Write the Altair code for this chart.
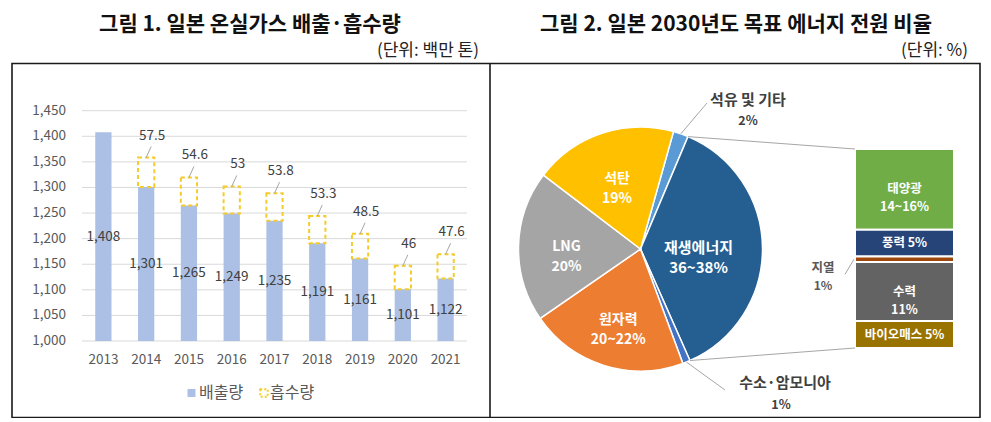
import math
import altair as alt
import pandas as pd

FONT = "Noto Sans CJK KR"
W, H = 975, 410


def P(v):
    return v - 8


# ---------------- data ----------------
years = ["2013", "2014", "2015", "2016", "2017", "2018", "2019", "2020", "2021"]
emissions = [1408, 1301, 1265, 1249, 1235, 1191, 1161, 1101, 1122]
absorptions = [None, 57.5, 54.6, 53, 53.8, 53.3, 48.5, 46, 47.6]
y_ticks = [1000, 1050, 1100, 1150, 1200, 1250, 1300, 1350, 1400, 1450]

pie_labels = ["석유 및 기타", "재생에너지", "수소·암모니아", "원자력", "LNG", "석탄"]
pie_values = [2, 37, 1, 21, 20, 19]
pie_texts = ["2%", "36~38%", "1%", "20~22%", "20%", "19%"]
pie_colors = ["#5B9BD5", "#255E91", "#4472C4", "#ED7D31", "#A5A5A5", "#FFC000"]

ren_labels = ["태양광", "풍력", "지열", "수력", "바이오매스"]
ren_values = [15, 5, 1, 11, 5]
ren_texts = ["14~16%", "5%", "1%", "11%", "5%"]
ren_colors = ["#70AD47", "#264478", "#9E480E", "#636363", "#997300"]

# ---------------- helpers ----------------
one = pd.DataFrame({"a": [0]})


def T(text, x, y, size=13, color="#404040", weight="normal", align="center"):
    return alt.Chart(one).mark_text(
        text=text, fontSize=size, color=color, fontWeight=weight, align=align,
        baseline="middle", font=FONT,
    ).encode(x=alt.value(P(x)), y=alt.value(P(y)))


def seg(x1, y1, x2, y2, color="#A6A6A6", width=1):
    return alt.Chart(one).mark_rule(color=color, strokeWidth=width).encode(
        x=alt.value(P(x1)), y=alt.value(P(y1)), x2=alt.value(P(x2)), y2=alt.value(P(y2))
    )


layers = []

# ---------------- frame & titles ----------------
layers.append(alt.Chart(one).mark_rect(fill="white", fillOpacity=0, stroke="#1a1a1a", strokeWidth=1.6).encode(
    x=alt.value(P(12)), x2=alt.value(P(980)), y=alt.value(P(63.5)), y2=alt.value(P(417.5))))
layers.append(seg(490, 63.5, 490, 417.5, color="#1a1a1a", width=1.6))
layers.append(T("그림 1. 일본 온실가스 배출·흡수량", 250, 25, size=21, color="#111111", weight="bold"))
layers.append(T("그림 2. 일본 2030년도 목표 에너지 전원 비율", 736, 25, size=21, color="#111111", weight="bold"))
layers.append(T("(단위: 백만 톤)", 479, 51, size=17, color="#222222", align="right"))
layers.append(T("(단위: %)", 968, 51, size=17, color="#222222", align="right"))

# ---------------- bar chart ----------------
Y0 = 1000
bar_df = pd.DataFrame({"year": years, "emission": emissions, "absorption": absorptions})
bar_df["mid"] = (Y0 + bar_df["emission"]) / 2
abs_df = bar_df.dropna().copy()
abs_df["top"] = abs_df["emission"] + abs_df["absorption"]
abs_df["lab"] = [f"{v:g}" for v in abs_df["absorption"]]
tick_df = pd.DataFrame({"v": y_ticks})

xs = alt.Scale(domain=years, range=[P(82), P(467)], paddingInner=0.62, paddingOuter=0.31)
ys = alt.Scale(domain=[y_ticks[0], y_ticks[-1]], range=[P(341), P(110.7)], zero=False, nice=False)
X = alt.X("year:N", scale=xs, axis=None, sort=years)

layers.append(alt.Chart(tick_df).mark_rule(color="#D9D9D9", strokeWidth=1).encode(
    y=alt.Y("v:Q", scale=ys, axis=None), x=alt.value(P(82)), x2=alt.value(P(467))))
layers.append(alt.Chart(tick_df).mark_text(align="right", fontSize=13.5, color="#595959", font=FONT).encode(
    y=alt.Y("v:Q", scale=ys, axis=None), x=alt.value(P(66)), text=alt.Text("v:Q", format=",")))
layers.append(alt.Chart(bar_df).mark_bar(color="#ABC0E4").encode(
    x=X, y=alt.Y("emission:Q", scale=ys, axis=None), y2=alt.datum(Y0)))
layers.append(alt.Chart(abs_df).mark_bar(fill="white", fillOpacity=0, stroke="#F5CB2A", strokeWidth=2,
                                         strokeDash=[4, 3]).encode(
    x=X, y=alt.Y("emission:Q", scale=ys, axis=None), y2="top:Q"))
layers.append(alt.Chart(bar_df).mark_text(fontSize=13.5, color="#404040", font=FONT).encode(
    x=X, y=alt.Y("mid:Q", scale=ys, axis=None), text=alt.Text("emission:Q", format=",")))
layers.append(alt.Chart(abs_df).mark_rule(color="#A6A6A6", strokeWidth=1, x2Offset=5, y2Offset=-11).encode(
    x=alt.X("year:N", scale=xs, axis=None, sort=years, bandPosition=0.5),
    x2=alt.X2("year:N", bandPosition=0.5),
    y=alt.Y("top:Q", scale=ys, axis=None), y2="top:Q"))
layers.append(alt.Chart(abs_df).mark_text(fontSize=13.5, color="#404040", font=FONT, dx=6, dy=-22).encode(
    x=X, y=alt.Y("top:Q", scale=ys, axis=None), text="lab:N"))
layers.append(alt.Chart(pd.DataFrame({"year": years})).mark_text(fontSize=13.5, color="#595959", font=FONT).encode(
    x=X, y=alt.value(P(360)), text="year:N"))

# legend
layers.append(alt.Chart(one).mark_square(size=64, color="#ABC0E4", opacity=1).encode(
    x=alt.value(P(191.5)), y=alt.value(P(393))))
layers.append(T("배출량", 199, 393, size=16, color="#595959", align="left"))
layers.append(alt.Chart(one).mark_square(size=56, filled=False, stroke="#F5CB2A", strokeWidth=2,
                                         strokeDash=[2, 2], opacity=1).encode(
    x=alt.value(P(264)), y=alt.value(P(393))))
layers.append(T("흡수량", 270, 393, size=16, color="#595959", align="left"))

# ---------------- pie chart ----------------
CX, CY, R = 640.5, 249, 122
A0 = math.radians(15.7)
tot = sum(pie_values)
pie_df = pd.DataFrame({"label": pie_labels, "value": pie_values, "ord": range(len(pie_labels))})
inner = {"원자력": "원자력\n20~22%", "LNG": "LNG\n20%", "석탄": "석탄\n19%"}
pie_df["inner"] = [inner.get(l, "") for l in pie_labels]
pie_df["renew"] = ["재생에너지\n36~38%" if l == "재생에너지" else "" for l in pie_labels]

tscale = alt.Scale(range=[A0, A0 + 2 * math.pi])
TH = alt.Theta("value:Q", stack=True, scale=tscale)
pie_color = alt.Color("label:N", scale=alt.Scale(domain=pie_labels, range=pie_colors), legend=None)

layers.append(alt.Chart(pie_df).mark_arc(radius=R, stroke="white", strokeWidth=1.5).encode(
    theta=TH, color=pie_color, order=alt.Order("ord:Q"), x=alt.value(P(CX)), y=alt.value(P(CY))))
layers.append(alt.Chart(pie_df).mark_text(radius=74, lineBreak="\n", lineHeight=20, fontSize=14,
                                          fontWeight="bold", color="white", font=FONT).encode(
    theta=TH, detail="label:N", order=alt.Order("ord:Q"), text="inner:N",
    x=alt.value(P(CX)), y=alt.value(P(CY))))
layers.append(alt.Chart(pie_df).mark_text(radius=58, lineBreak="\n", lineHeight=20, fontSize=15,
                                          fontWeight="bold", color="white", font=FONT).encode(
    theta=TH, detail="label:N", order=alt.Order("ord:Q"), text="renew:N",
    x=alt.value(P(CX)), y=alt.value(P(CY))))

# angles (clockwise from north) derived from the values
cum = [0]
for v in pie_values:
    cum.append(cum[-1] + v)


def ang(c):
    return A0 + 2 * math.pi * c / tot


def edge(a, r=R):
    return CX + r * math.sin(a), CY - r * math.cos(a)


# outside labels + leader lines
sx, sy = edge(ang((cum[0] + cum[1]) / 2))
layers.append(seg(sx, sy, 707, 103))
layers.append(T("석유 및 기타", 748, 100, size=15, color="#404040", weight="bold"))
layers.append(T("2%", 748, 121, size=12.5, color="#404040", weight="bold"))
sx, sy = edge(ang((cum[2] + cum[3]) / 2))
layers.append(seg(sx, sy, 725, 390))
layers.append(T("수소·암모니아", 785, 383, size=15, color="#404040", weight="bold"))
layers.append(T("1%", 781, 405, size=12.5, color="#404040", weight="bold"))

# ---------------- renewables stacked bar ----------------
BX0, BX1, BY0, BY1 = 855, 954, 348, 149
ren_total = sum(ren_values)
ren_df = pd.DataFrame({"label": ren_labels, "value": ren_values, "grp": "재생에너지"})
ren_df["ord"] = list(range(len(ren_labels)))[::-1]
mids = []
acc = 0
for v in ren_values[::-1]:
    mids.append(acc + v / 2)
    acc += v
ren_df["mid"] = mids[::-1]
ren_in = {"태양광": "태양광\n14~16%", "풍력": "풍력 5%", "수력": "수력\n11%", "바이오매스": "바이오매스 5%"}
ren_df["txt"] = [ren_in.get(l, "") for l in ren_labels]

xs2 = alt.Scale(domain=["재생에너지"], range=[P(BX0), P(BX1)], paddingInner=0, paddingOuter=0)
ys2 = alt.Scale(domain=[0, ren_total], range=[P(BY0), P(BY1)], nice=False)
layers.append(alt.Chart(ren_df).mark_bar(stroke="white", strokeWidth=2).encode(
    x=alt.X("grp:N", scale=xs2, axis=None),
    y=alt.Y("value:Q", stack="zero", scale=ys2, axis=None),
    color=alt.Color("label:N", scale=alt.Scale(domain=ren_labels, range=ren_colors), legend=None),
    order=alt.Order("ord:Q")))
layers.append(alt.Chart(ren_df).mark_text(lineBreak="\n", lineHeight=18, fontSize=12.5, fontWeight="bold",
                                          color="white", font=FONT).encode(
    x=alt.value(P((BX0 + BX1) / 2)), y=alt.Y("mid:Q", scale=ys2, axis=None), text="txt:N"))
geo_df = ren_df[ren_df["label"] == "지열"]
layers.append(alt.Chart(geo_df).mark_rule(color="#A6A6A6", strokeWidth=1, y2Offset=15).encode(
    x=alt.value(P(BX0 - 1)), x2=alt.value(P(BX0 - 10)),
    y=alt.Y("mid:Q", scale=ys2, axis=None), y2="mid:Q"))
layers.append(alt.Chart(geo_df).mark_text(fontSize=12.5, fontWeight="bold",
                                          color="#595959", font=FONT, dy=9).encode(
    x=alt.value(P(823)), y=alt.Y("mid:Q", scale=ys2, axis=None), text=alt.value("지열")))
layers.append(alt.Chart(geo_df).mark_text(fontSize=12, fontWeight="bold",
                                          color="#595959", font=FONT, dy=27).encode(
    x=alt.value(P(823)), y=alt.Y("mid:Q", scale=ys2, axis=None), text=alt.value("1%")))

# connectors from the renewables slice to the stacked bar
tx, ty = edge(ang(cum[1]))
bx, by = edge(ang(cum[2]))
layers.append(seg(tx, ty, BX0, BY1))
layers.append(seg(bx, by, BX0, BY0))

chart = alt.layer(*layers).properties(
    width=W, height=H, autosize="none", padding=0
).resolve_scale(
    x="independent", y="independent", color="independent", theta="independent"
).configure_view(stroke=None)

chart.save("out.html", embed_options={"renderer": "svg", "actions": False})
